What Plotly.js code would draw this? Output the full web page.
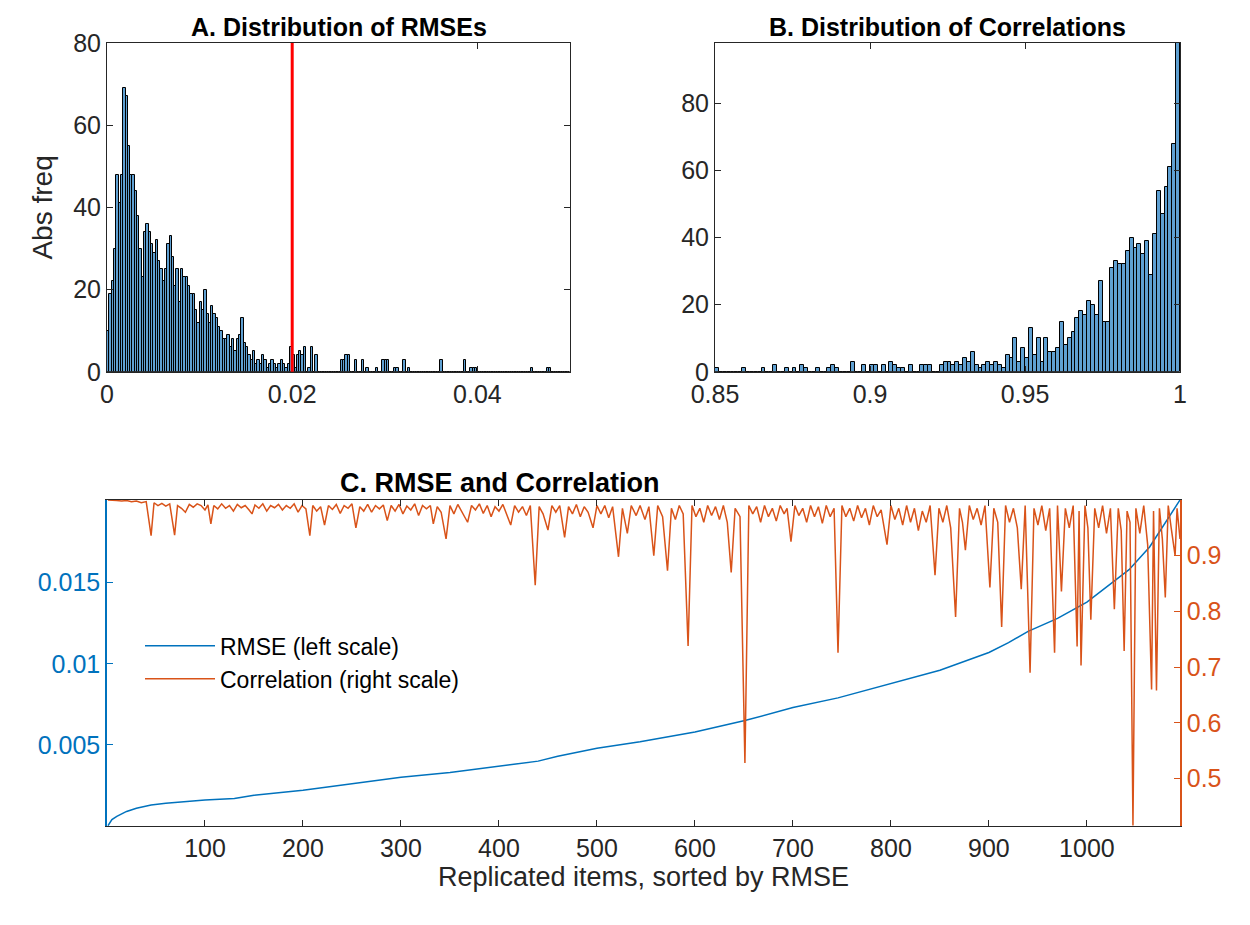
<!DOCTYPE html>
<html>
<head>
<meta charset="utf-8">
<script src="https://cdn.plot.ly/plotly-3.0.1.min.js"></script>
<style>body{margin:0;background:#fff}#plot{width:1250px;height:925px}</style>
</head>
<body>
<div id="plot"></div>
<script>
// Panel A: RMSE histogram, bins of 0.00025 from 0
var rmseBinWidth = 0.00025;
var rmseCounts = [
  10,19,22,30,48,41,48,69,67,55,
  48,48,44,38,30,23,34,36,34,31,
  29,32,27,25,22,25,31,33,28,21,
  25,17,25,23,23,21,19,19,15,12,
  17,15,20,14,12,16,14,13,11,10,
  8,8,9,6,8,5,8,9,13,7,
  6,4,3,5,2,3,2,4,3,1,
  2,3,2,1,2,3,2,1,2,6,
  4,1,4,5,4,6,0,1,6,0,
  4,0,0,0,0,0,0,0,0,0,
  0,3,3,4,4,0,0,3,0,0,
  3,0,1,0,0,0,1,0,0,3,
  3,3,0,0,1,1,0,0,3,0,
  1,0,0,0,0,0,0,0,0,0,
  0,0,0,0,3,0,0,0,0,0,
  0,0,0,0,3,0,0,1,1,1,
  0,0,0,0,0,0,0,0,0,0,
  0,0,0,0,0,0,0,0,0,0,
  0,0,0,1,0,0,0,0,0,0,
  1,1,0,0,0,0,0,0,0,0
];
var rmseThreshold = 0.02;

// Panel B: correlation histogram, bins of 0.00125 from 0.85
var corrBinStart = 0.85;
var corrBinWidth = 0.00125;
var corrCounts = [
  1,0,0,0,0,0,0,1,0,0,
  0,0,1,0,0,2,0,0,1,0,
  1,0,2,1,0,0,1,0,0,1,
  2,1,0,0,0,3,0,0,2,0,
  2,2,0,2,0,3,2,1,1,0,
  2,0,0,2,2,2,0,0,2,3,
  3,2,3,2,4,3,6,2,1,2,
  3,2,3,2,1,5,4,10,3,7,
  4,13,5,10,3,10,6,6,7,15,
  8,10,12,16,18,17,21,20,17,27,
  15,15,31,33,32,32,36,40,37,38,
  35,39,29,41,54,47,55,61,68,98
];

// Panel C: items sorted by RMSE
var rmseItem = [1,5,10,20,30,45,60,80,100,130,150,200,250,300,350,400,440,460,500,544,600,651,700,746,800,850,900,920,940,970,1000,1022,1043,1064,1078,1095];
var rmseValue = [0.00002,0.0004,0.0006,0.0009,0.0011,0.0013,0.0014,0.0015,0.0016,0.0017,0.0019,0.0022,0.0026,0.0030,0.0033,0.0037,0.0040,0.0043,0.0048,0.0052,0.0058,0.0065,0.0073,0.0079,0.0088,0.0096,0.0107,0.0113,0.0120,0.0128,0.0138,0.0148,0.0158,0.0172,0.0185,0.0201];

var corrItem = [1,5,10,15,20,25,30,35,40,45,48,52,56,60,64,69,72,76,80,84,88,92,96,100,103,106,109,113,117,121,125,129,133,137,141,145,148,151,155,159,163,167,171,175,179,183,187,191,195,199,203,207,210,214,218,222,226,230,234,238,242,246,250,254,258,262,266,270,274,278,282,286,290,294,298,302,306,310,314,318,322,326,330,333,337,341,346,350,354,358,362,368,372,376,380,384,388,392,396,400,404,408,412,416,420,424,428,432,437,441,445,450,454,458,462,467,471,475,479,483,487,491,496,500,504,508,512,516,522,526,531,535,540,544,549,553,558,562,567,572,576,580,584,588,593,597,601,605,609,613,617,621,625,629,633,637,641,646,651,655,659,663,667,671,675,679,683,687,691,694,698,702,706,710,714,718,722,726,730,734,738,742,746,750,754,758,762,766,770,774,778,782,786,790,796,800,804,808,812,816,820,824,828,832,836,840,845,849,853,857,861,866,870,873,876,880,884,888,892,896,901,905,909,913,917,921,925,929,933,937,942,946,950,954,958,962,967,970,974,978,982,986,990,992,994,998,1001,1004,1008,1012,1016,1020,1024,1028,1032,1035,1038,1041,1044,1047,1050,1054,1058,1062,1066,1068,1071,1074,1077,1080,1083,1086,1090,1092,1095];
var corrValue = [1.0,0.999,0.999,0.998,0.999,0.997,0.998,0.995,0.997,0.936,0.995,0.99,0.994,0.989,0.993,0.937,0.99,0.985,0.978,0.992,0.987,0.993,0.99,0.982,0.991,0.957,0.99,0.984,0.993,0.985,0.99,0.98,0.992,0.986,0.99,0.982,0.975,0.991,0.985,0.993,0.98,0.99,0.986,0.992,0.982,0.99,0.985,0.993,0.978,0.99,0.984,0.936,0.99,0.98,0.988,0.955,0.99,0.983,0.992,0.976,0.99,0.985,0.993,0.95,0.988,0.98,0.992,0.978,0.99,0.984,0.991,0.963,0.99,0.98,0.992,0.975,0.989,0.982,0.993,0.972,0.99,0.984,0.99,0.957,0.988,0.978,0.93,0.99,0.975,0.992,0.98,0.96,0.99,0.982,0.993,0.976,0.99,0.97,0.988,0.98,0.992,0.975,0.955,0.99,0.978,0.988,0.972,0.99,0.847,0.988,0.975,0.946,0.99,0.978,0.99,0.933,0.988,0.975,0.992,0.97,0.988,0.978,0.95,0.99,0.975,0.99,0.968,0.988,0.898,0.985,0.94,0.99,0.972,0.99,0.965,0.988,0.90,0.99,0.97,0.873,0.985,0.965,0.99,0.975,0.738,0.99,0.97,0.985,0.96,0.99,0.972,0.988,0.965,0.99,0.96,0.87,0.985,0.97,0.528,0.99,0.975,0.988,0.96,0.99,0.97,0.985,0.962,0.99,0.975,0.985,0.925,0.99,0.972,0.985,0.96,0.99,0.97,0.988,0.958,0.99,0.97,0.985,0.726,0.99,0.97,0.985,0.962,0.99,0.968,0.985,0.955,0.99,0.97,0.982,0.92,0.99,0.965,0.985,0.955,0.99,0.96,0.985,0.945,0.98,0.96,0.99,0.865,0.985,0.96,0.99,0.95,0.79,0.985,0.96,0.91,0.99,0.965,0.985,0.955,0.99,0.843,0.985,0.96,0.772,0.99,0.96,0.985,0.95,0.84,0.99,0.69,0.985,0.955,0.99,0.945,0.985,0.726,0.99,0.836,0.985,0.95,0.99,0.737,0.98,0.703,0.99,0.95,0.785,0.985,0.95,0.99,0.94,0.985,0.804,0.985,0.945,0.729,0.98,0.96,0.416,0.985,0.94,0.99,0.92,0.66,0.98,0.658,0.985,0.93,0.825,0.99,0.95,0.9,0.985,0.93];

var rmseX = rmseCounts.map(function(c, i){ return (i + 0.5) * rmseBinWidth; });
var corrX = corrCounts.map(function(c, i){ return corrBinStart + (i + 0.5) * corrBinWidth; });

var blue = '#0072BD';
var orange = '#D95319';
var histFill = '#5fa0d2';
var font = 'Liberation Sans, Arial, sans-serif';

var data = [
  {x: rmseX, y: rmseCounts, type: 'bar', width: rmseBinWidth, xaxis: 'x', yaxis: 'y',
   marker: {color: histFill, line: {color: '#000', width: 1}}, showlegend: false},
  {x: corrX, y: corrCounts, type: 'bar', width: corrBinWidth, xaxis: 'x2', yaxis: 'y2',
   marker: {color: histFill, line: {color: '#000', width: 1}}, showlegend: false},
  {x: rmseItem, y: rmseValue, mode: 'lines', type: 'scatter', name: 'RMSE (left scale)',
   xaxis: 'x3', yaxis: 'y3', line: {color: blue, width: 1.5}},
  {x: corrItem, y: corrValue, mode: 'lines', type: 'scatter', name: 'Correlation (right scale)',
   xaxis: 'x3', yaxis: 'y4', line: {color: orange, width: 1.5}}
];

var tickFont = {family: font, size: 25, color: '#262626'};
var boxAxis = {showline: true, linecolor: '#262626', linewidth: 1, mirror: 'ticks', ticks: 'inside',
               ticklen: 6, tickcolor: '#262626', showgrid: false, zeroline: false, tickfont: tickFont};

function ax(extra){ return Object.assign({}, boxAxis, extra); }

var layout = {
  width: 1250, height: 925,
  margin: {l: 0, r: 0, t: 0, b: 0},
  paper_bgcolor: '#fff', plot_bgcolor: '#fff',
  bargap: 0,
  font: {family: font},
  xaxis: ax({domain: [0.0856, 0.456], range: [0, 0.05], tickvals: [0, 0.02, 0.04], ticktext: ['0', '0.02', '0.04'], anchor: 'y'}),
  yaxis: ax({domain: [0.598, 0.9535], range: [0, 80], tickvals: [0, 20, 40, 60, 80], anchor: 'x',
             title: {text: 'Abs freq', font: {family: font, size: 28, color: '#262626'}, standoff: 12}}),
  xaxis2: ax({domain: [0.572, 0.944], range: [0.85, 1], tickvals: [0.85, 0.9, 0.95, 1], ticktext: ['0.85', '0.9', '0.95', '1'], anchor: 'y2'}),
  yaxis2: ax({domain: [0.598, 0.9535], range: [0, 98], tickvals: [0, 20, 40, 60, 80], anchor: 'x2'}),
  xaxis3: ax({domain: [0.0856, 0.944], range: [0, 1095], tickvals: [100, 200, 300, 400, 500, 600, 700, 800, 900, 1000], anchor: 'y3',
              title: {text: 'Replicated items, sorted by RMSE', font: {family: font, size: 27, color: '#262626'}, standoff: 6}}),
  yaxis3: {domain: [0.107, 0.4595], range: [0, 0.0201], anchor: 'x3', showline: true, linecolor: blue, linewidth: 1.5,
           ticks: 'inside', ticklen: 6, tickcolor: blue, tickvals: [0.005, 0.01, 0.015], ticktext: ['0.005', '0.01', '0.015'],
           showgrid: false, zeroline: false, tickfont: {family: font, size: 25, color: blue}},
  yaxis4: {overlaying: 'y3', side: 'right', anchor: 'x3', range: [0.415, 1.0], showline: true, linecolor: orange, linewidth: 1.5,
           ticks: 'inside', ticklen: 6, tickcolor: orange, tickvals: [0.5, 0.6, 0.7, 0.8, 0.9],
           showgrid: false, zeroline: false, tickfont: {family: font, size: 25, color: orange}},
  legend: {x: 0.112, y: 0.325, xanchor: 'left', yanchor: 'top', bgcolor: 'rgba(255,255,255,0)',
           itemwidth: 70, font: {family: font, size: 23, color: '#000'}, tracegroupgap: 0},
  shapes: [
    {type: 'line', xref: 'x', yref: 'y domain', x0: rmseThreshold, x1: rmseThreshold, y0: 0, y1: 1,
     line: {color: '#ff0000', width: 3}}
  ],
  annotations: [
    {text: '<b>A. Distribution of RMSEs</b>', xref: 'paper', yref: 'paper', x: 0.271, y: 0.9535, xanchor: 'center', yanchor: 'bottom', showarrow: false, font: {family: font, size: 25, color: '#000'}},
    {text: '<b>B. Distribution of Correlations</b>', xref: 'paper', yref: 'paper', x: 0.758, y: 0.9535, xanchor: 'center', yanchor: 'bottom', showarrow: false, font: {family: font, size: 25, color: '#000'}},
    {text: '<b>C. RMSE and Correlation</b>', xref: 'paper', yref: 'paper', x: 0.4, y: 0.4595, xanchor: 'center', yanchor: 'bottom', showarrow: false, font: {family: font, size: 27, color: '#000'}}
  ]
};

Plotly.newPlot('plot', data, layout, {displayModeBar: false});
</script>
</body>
</html>
